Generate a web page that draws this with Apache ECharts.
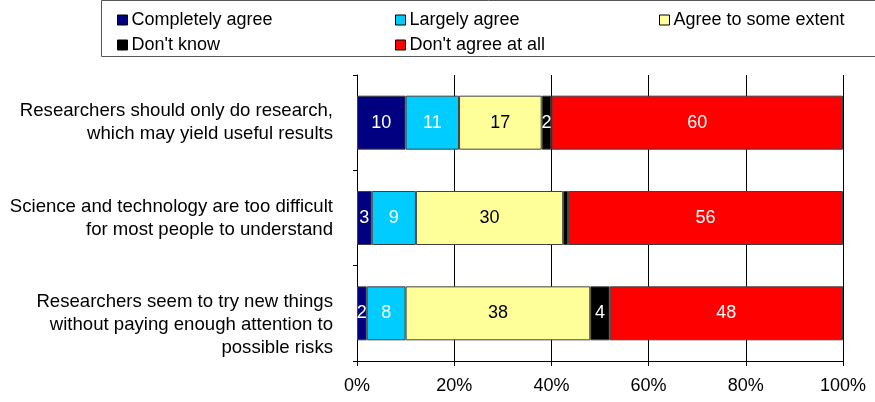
<!DOCTYPE html>
<html>
<head>
<meta charset="utf-8">
<script src="https://cdn.jsdelivr.net/npm/echarts@6/dist/echarts.min.js"></script>
<style>
html,body{margin:0;padding:0;background:#fff;}
#chart{width:875px;height:402px;}
</style>
</head>
<body>
<div id="chart"></div>
<script>
const categories = [
  "Researchers should only do research,\nwhich may yield useful results",
  "Science and technology are too difficult\nfor most people to understand",
  "Researchers seem to try new things\nwithout paying enough attention to\npossible risks"
];
const seriesNames = ["Completely agree", "Largely agree", "Agree to some extent", "Don't know", "Don't agree at all"];
const completelyAgree = [10, 3, 2];
const largelyAgree = [11, 9, 8];
const agreeSomeExtent = [17, 30, 38];
const dontKnow = [2, 1, 4];
const dontAgree = [60, 56, 48];
const xTicks = [0, 20, 40, 60, 80, 100];

const colors = ["#000080", "#00CCFF", "#FFFF99", "#000000", "#FF0000"];
const labelColors = ["#fff", "#fff", "#000", "#fff", "#fff"];
const values = [completelyAgree, largelyAgree, agreeSomeExtent, dontKnow, dontAgree];
// 100% stacked: each row is scaled to its own total
const totals = categories.map((c, j) => values.reduce((s, arr) => s + arr[j], 0));

const font = "'Liberation Sans', Arial, sans-serif";
const FS = 18;
const chart = echarts.init(document.getElementById('chart'));

const series = seriesNames.map((name, i) => ({
  name: name,
  type: 'bar',
  stack: 'total',
  barWidth: 54,
  data: values[i].map((v, j) => ({
    value: v / totals[j] * 100,
    raw: v,
    label: { show: v >= 2 }
  })),
  itemStyle: { color: colors[i], borderColor: '#404040', borderWidth: 1 },
  label: {
    show: true,
    position: 'inside',
    color: labelColors[i],
    fontSize: FS,
    fontFamily: font,
    textBorderWidth: 0,
    formatter: p => String(p.data.raw)
  },
  emphasis: { disabled: true },
  animation: false
}));

const legendBase = {
  orient: 'vertical',
  top: 6,
  itemWidth: 10,
  itemHeight: 10,
  itemGap: 7,
  icon: 'rect',
  selectedMode: false,
  textStyle: { fontSize: FS, fontFamily: font, color: '#000', padding: [0, 0, 0, -1] },
  itemStyle: { borderColor: '#000', borderWidth: 1 }
};

chart.setOption({
  animation: false,
  color: colors,
  graphic: [{
    type: 'rect',
    shape: { x: 101.5, y: 0.5, width: 800, height: 56 },
    style: { fill: '#fff', stroke: '#555', lineWidth: 1 },
    z: -10
  }],
  legend: [
    Object.assign({}, legendBase, { left: 112, data: [seriesNames[0], seriesNames[3]] }),
    Object.assign({}, legendBase, { left: 390, data: [seriesNames[1], seriesNames[4]] }),
    Object.assign({}, legendBase, { left: 654, data: [seriesNames[2]] })
  ],
  grid: { left: 357, right: 32, top: 75, bottom: 41, containLabel: false },
  xAxis: {
    type: 'value',
    min: xTicks[0],
    max: xTicks[xTicks.length - 1],
    interval: 20,
    axisLine: { show: true, lineStyle: { color: '#000', width: 1 } },
    axisTick: { show: true, length: 5, lineStyle: { color: '#000' } },
    axisLabel: { formatter: '{value}%', fontSize: FS, fontFamily: font, color: '#000', margin: 16 },
    splitLine: { show: true, lineStyle: { color: '#000', width: 1 } }
  },
  yAxis: {
    type: 'category',
    inverse: true,
    data: categories,
    axisLine: { show: true, lineStyle: { color: '#000', width: 1 } },
    axisTick: { show: true, length: 4, lineStyle: { color: '#000' } },
    axisLabel: {
      fontSize: 18.6, fontFamily: font, color: '#000', align: 'right', lineHeight: 23, margin: 24,
      formatter: (v, i) => (v.split('\n').length > 2 ? '\n' + v : v)
    }
  },
  series: series
});
</script>
</body>
</html>
